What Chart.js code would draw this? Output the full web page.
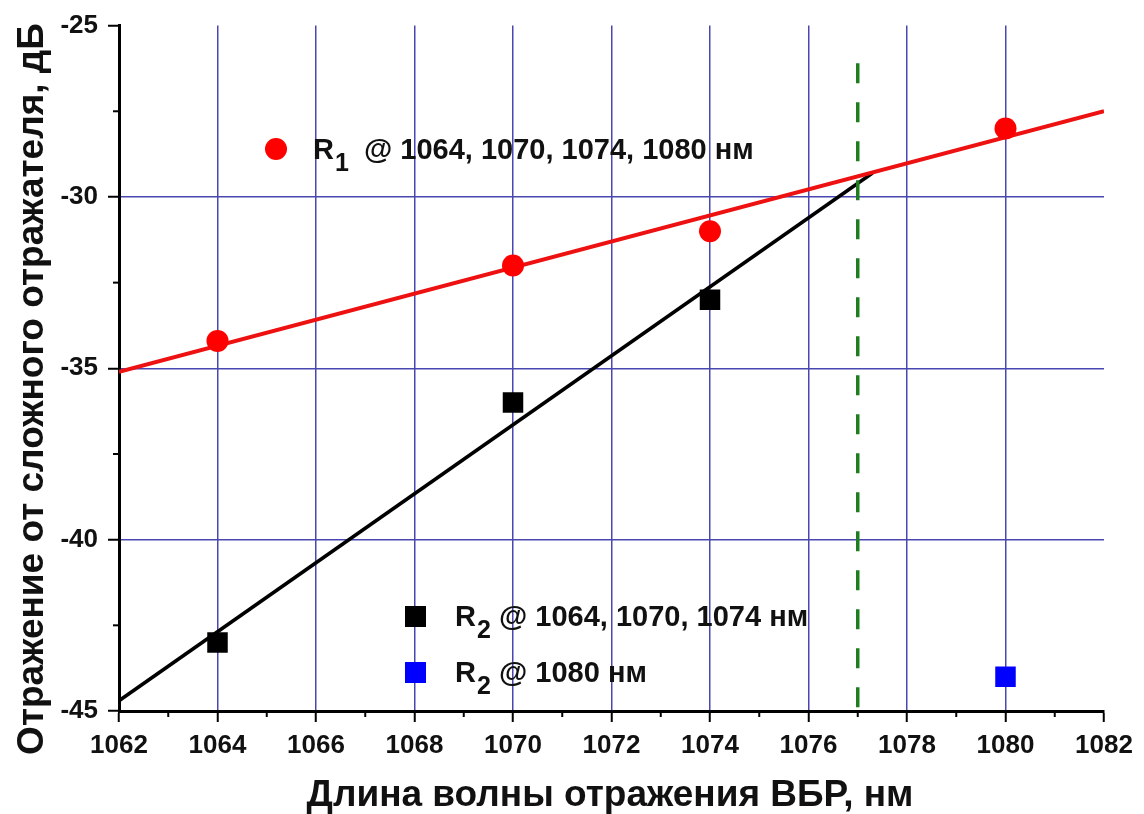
<!DOCTYPE html>
<html>
<head>
<meta charset="utf-8">
<script src="https://cdn.jsdelivr.net/npm/chart.js@4/dist/chart.umd.min.js"></script>
<style>
  html, body { margin: 0; padding: 0; background: #fff; }
  #wrap { width: 1144px; height: 814px; }
</style>
</head>
<body>
<div id="wrap"><canvas id="chart" width="1144" height="814"></canvas></div>
<script>
// измеренные точки
var r1X = [1064, 1070, 1074, 1080];
var r1Y = [-34.2, -32, -31, -28];
var r2X = [1064, 1070, 1074];
var r2Y = [-43, -36, -33];
var r2bX = [1080];
var r2bY = [-44];
// линии аппроксимации (концы)
var fit1X = [1062, 1082];
var fit1Y = [-35.1, -27.5];
var fit2X = [1062, 1077.3];
var fit2Y = [-44.7, -29.3];
// граница (пунктир)
var edgeX = [1077, 1077];
var edgeY = [-26.1, -45];
// оси
var xTicks = [1062, 1064, 1066, 1068, 1070, 1072, 1074, 1076, 1078, 1080, 1082];
var yTicks = [-25, -30, -35, -40, -45];

function pts(xs, ys) {
  return xs.map(function (x, i) { return { x: x, y: ys[i] }; });
}

var FONT = '"Liberation Sans", Arial, sans-serif';
var GRID = '#4848b0';

// подписи, легенда и малые деления
var decor = {
  id: 'decor',
  afterDraw: function (chart) {
    var ctx = chart.ctx;
    var xs = chart.scales.x, ys = chart.scales.y;
    var area = chart.chartArea;
    ctx.save();
    // малые деления
    ctx.strokeStyle = '#000';
    ctx.lineWidth = 2;
    for (var v = 1063; v < 1082; v += 2) {
      var px = xs.getPixelForValue(v);
      ctx.beginPath(); ctx.moveTo(px, area.bottom); ctx.lineTo(px, area.bottom + 6); ctx.stroke();
    }
    for (var w = -42.5; w < -25; w += 5) {
      var py = ys.getPixelForValue(w);
      ctx.beginPath(); ctx.moveTo(area.left, py); ctx.lineTo(area.left - 6, py); ctx.stroke();
    }

    // названия осей
    ctx.fillStyle = '#111';
    ctx.font = 'bold 37px ' + FONT;
    ctx.textAlign = 'center';
    ctx.textBaseline = 'alphabetic';
    ctx.fillText('Длина волны отражения ВБР, нм', 610, 806);
    ctx.save();
    ctx.translate(43, 389);
    ctx.rotate(-Math.PI / 2);
    ctx.fillText('Отражение от сложного отражателя, дБ', 0, 0);
    ctx.restore();

    // легенда
    function label(x, y, sub, restX, rest) {
      ctx.textAlign = 'left';
      ctx.font = 'bold 29px ' + FONT;
      ctx.fillText('R', x, y);
      var wR = ctx.measureText('R').width;
      ctx.font = 'bold 25px ' + FONT;
      ctx.fillText(sub, x + wR + 1, y + 12);
      ctx.font = 'bold 29px ' + FONT;
      ctx.fillText(rest, restX, y);
    }
    ctx.fillStyle = '#ff0000';
    ctx.beginPath(); ctx.arc(276, 149, 11, 0, Math.PI * 2); ctx.fill();
    ctx.fillStyle = '#111';
    label(313, 159, '1', 364, '@ 1064, 1070, 1074, 1080 нм');

    ctx.fillStyle = '#000';
    ctx.fillRect(405, 606, 21, 21);
    ctx.fillStyle = '#111';
    label(455, 626, '2', 499, '@ 1064, 1070, 1074 нм');

    ctx.fillStyle = '#0000ff';
    ctx.fillRect(405, 662, 21, 21);
    ctx.fillStyle = '#111';
    label(455, 682, '2', 499, '@ 1080 нм');
    ctx.restore();
  }
};

new Chart(document.getElementById('chart'), {
  type: 'scatter',
  data: {
    datasets: [
      {
        label: 'fit1', data: pts(fit1X, fit1Y), showLine: true,
        borderColor: '#ee1111', borderWidth: 4, pointRadius: 0, order: 3
      },
      {
        label: 'fit2', data: pts(fit2X, fit2Y), showLine: true,
        borderColor: '#000', borderWidth: 3.5, pointRadius: 0, order: 3
      },
      {
        label: 'edge', data: pts(edgeX, edgeY), showLine: true,
        borderColor: '#1e7d1e', borderWidth: 3.5, borderDash: [20, 19], pointRadius: 0, order: 2
      },
      {
        label: 'R1', data: pts(r1X, r1Y), pointStyle: 'circle', pointRadius: 11,
        backgroundColor: '#ff0000', borderColor: '#ff0000', borderWidth: 0, order: 1
      },
      {
        label: 'R2', data: pts(r2X, r2Y), pointStyle: 'rect', pointRadius: 14.5,
        backgroundColor: '#000', borderColor: '#000', borderWidth: 0, order: 1
      },
      {
        label: 'R2 1080', data: pts(r2bX, r2bY), pointStyle: 'rect', pointRadius: 14.5,
        backgroundColor: '#0000ff', borderColor: '#0000ff', borderWidth: 0, order: 1
      }
    ]
  },
  options: {
    responsive: false,
    animation: false,
    layout: { padding: { top: 23, right: 40, left: 0, bottom: 0 } },
    plugins: { legend: { display: false }, tooltip: { enabled: false } },
    scales: {
      x: {
        type: 'linear', min: 1062, max: 1082,
        afterFit: function (s) { s.height = 103; },
        afterBuildTicks: function (s) { s.ticks = xTicks.map(function (v) { return { value: v }; }); },
        ticks: {
          color: '#111', font: { family: FONT, size: 26, weight: 'bold' }, padding: 8, maxRotation: 0, autoSkip: false,
          callback: function (v) { return String(v); }
        },
        grid: {
          color: function (c) { return (c.tick && (c.tick.value === 1062 || c.tick.value === 1082)) ? 'rgba(0,0,0,0)' : GRID; },
          lineWidth: 1.5, drawTicks: true, tickLength: 11, tickColor: '#000', tickWidth: 2
        },
        border: { display: true, color: '#000', width: 3 }
      },
      y: {
        type: 'linear', min: -45, max: -25,
        afterFit: function (s) { s.width = 119; },
        afterBuildTicks: function (s) { s.ticks = yTicks.map(function (v) { return { value: v }; }); },
        ticks: {
          color: '#111', font: { family: FONT, size: 26, weight: 'bold' }, padding: 10,
          callback: function (v) { return String(v); }
        },
        grid: {
          color: function (c) { return (c.tick && (c.tick.value === -25 || c.tick.value === -45)) ? 'rgba(0,0,0,0)' : GRID; },
          lineWidth: 1.5, drawTicks: true, tickLength: 11, tickColor: '#000', tickWidth: 2
        },
        border: { display: true, color: '#000', width: 3 }
      }
    }
  },
  plugins: [decor]
});
</script>
</body>
</html>
